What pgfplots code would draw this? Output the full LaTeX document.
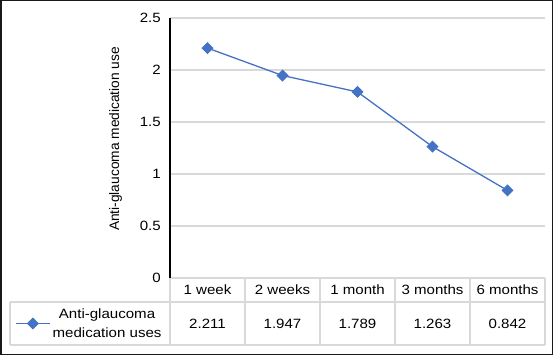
\documentclass[border=0pt]{standalone}
\usepackage{pgfplots}
\pgfplotsset{compat=1.18}
\usepackage{fontspec}
\setmainfont[FakeStretch=1.12]{Liberation Sans}
\newfontfamily\labelfont{Liberation Sans}
\definecolor{serieblue}{HTML}{4472C4}
\definecolor{gridgray}{HTML}{D9D9D9}
\newcommand{\chartfont}{\fontsize{13.5}{19}\selectfont}
\begin{document}
\begin{tikzpicture}[x=1bp,y=1bp]
\useasboundingbox (0,0) rectangle (553,355);
\begin{axis}[
  at={(170bp,77bp)}, anchor=south west,
  scale only axis, width=375bp, height=260bp,
  xmin=-0.5, xmax=4.5, ymin=0, ymax=2.5,
  ytick={0,0.5,1,1.5,2,2.5},
  yticklabels={0,0.5,1,1.5,2,2.5},
  axis x line=none,
  axis y line=left,
  y axis line style={-, black, line width=2bp},
  major tick length=0pt,
  ymajorgrids,
  major grid style={gridgray, line width=1.3bp},
  yticklabel style={font=\chartfont, inner sep=0pt, xshift=-9bp},
  /pgf/number format/assume math mode=true,
  ylabel={Anti-glaucoma medication use},
  every axis y label/.style={at={(axis description cs:-0.145,0.535)}, rotate=90, anchor=center,
    font=\labelfont\fontsize{13.8}{16}\selectfont},
  clip=false,
  legend style={draw=none, fill=none, at={(axis description cs:-0.413,-0.175)}, anchor=west,
    font=\chartfont, cells={align=center}, inner sep=0pt},
  legend image code/.code={\draw[#1, mark repeat=2, mark phase=2] plot coordinates {(0bp,0bp) (17bp,0bp) (34bp,0bp)};},
]
\addplot[serieblue, line width=1.3bp, mark=square*, mark size=3.6bp,
  mark options={fill=serieblue, draw=serieblue, rotate=45}]
  coordinates {(0,2.211) (1,1.947) (2,1.789) (3,1.263) (4,0.842)};
\addlegendentry{Anti-glaucoma\\medication uses}
% category row and value row of the data table
\foreach \lab [count=\i from 0] in {1 week,2 weeks,1 month,3 months,6 months} {
  \edef\tmp{\noexpand\node[font=\noexpand\chartfont] at ([yshift=-12bp]axis cs:\i,0) {\lab};}\tmp
}
\foreach \val [count=\i from 0] in {2.211,1.947,1.789,1.263,0.842} {
  \edef\tmp{\noexpand\node[font=\noexpand\chartfont] at ([yshift=-46bp]axis cs:\i,0) {\val};}\tmp
}
\end{axis}
% table rules
\begin{scope}[gridgray, line width=1.3bp]
  \draw (10,53) -- (545,53);
  \draw (10,10) -- (545,10);
  \draw (10,10) -- (10,53);
  \foreach \xx in {170,245,320,395,470,545} \draw (\xx,10) -- (\xx,77);
\end{scope}
% outer frame
\draw[black!90, line width=1.5bp] (0.75,0.75) rectangle (552.25,354.25);
\end{tikzpicture}
\end{document}
